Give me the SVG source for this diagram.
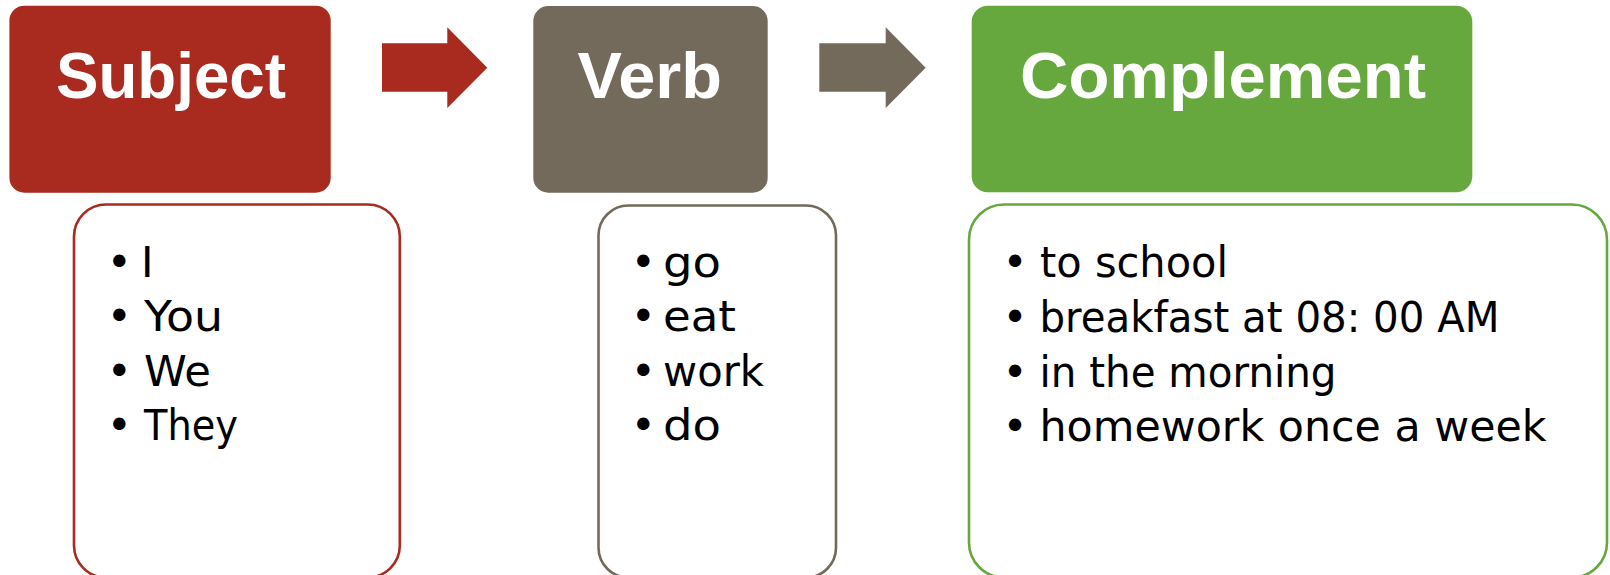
<svg xmlns="http://www.w3.org/2000/svg" width="1610" height="575" viewBox="0 0 1610 575">
<style>
  .hdr { font-family: "Liberation Sans", Arial, sans-serif; font-weight: bold; font-size: 65px; fill: #ffffff; }
  .item { font-family: "DejaVu Sans", sans-serif; font-size: 42.5px; fill: #000000; }
  .bul { font-family: "DejaVu Sans", sans-serif; font-size: 42.5px; fill: #000000; text-anchor: middle; }
  .list { fill: #ffffff; stroke-width: 2.6; }
  .red { fill: #A92A1E; }
  .gray { fill: #736A5B; }
  .green { fill: #66A83D; }
</style>
<rect width="1610" height="575" fill="#ffffff"/>
<g id="connectors">
  <polygon class="red" points="382,43.3 447.3,43.3 447.3,27.3 487.3,67.7 447.3,108 447.3,91.7 382,91.7"/>
  <polygon class="gray" points="819.3,43.3 885.7,43.3 885.7,27.3 925.7,67.7 885.7,108 885.7,91.7 819.3,91.7"/>
</g>
<g id="subject">
  <rect class="red" x="9.4" y="5.7" width="321.3" height="187" rx="15"/>
  <text class="hdr" x="56" y="98" textLength="230" lengthAdjust="spacingAndGlyphs">Subject</text>
</g>
<g id="verb">
  <rect class="gray" x="533.3" y="6" width="234.4" height="186.7" rx="15"/>
  <text class="hdr" x="577.5" y="98" textLength="144.5" lengthAdjust="spacingAndGlyphs">Verb</text>
</g>
<g id="complement">
  <rect class="green" x="971.7" y="5.7" width="500.6" height="186.6" rx="16"/>
  <text class="hdr" x="1020" y="98" textLength="406" lengthAdjust="spacingAndGlyphs">Complement</text>
</g>
<g id="subject-list">
  <rect class="list" x="74" y="204.5" width="325.8" height="373" rx="32" stroke="#A92A1E"/>
  <text class="bul" x="119.3" y="276.5">•</text>
  <text class="bul" x="119.3" y="331">•</text>
  <text class="bul" x="119.3" y="385.5">•</text>
  <text class="bul" x="119.3" y="439.5">•</text>
  <text class="item" x="141" y="276.5">I</text>
  <text class="item" x="144" y="331" textLength="79" lengthAdjust="spacingAndGlyphs">You</text>
  <text class="item" x="144" y="385.5" textLength="67" lengthAdjust="spacingAndGlyphs">We</text>
  <text class="item" x="144" y="439.5" textLength="94" lengthAdjust="spacingAndGlyphs">They</text>
</g>
<g id="verb-list">
  <rect class="list" x="598.5" y="205.5" width="237.5" height="372" rx="30" stroke="#736A5B"/>
  <text class="bul" x="643.3" y="276.5">•</text>
  <text class="bul" x="643.3" y="331">•</text>
  <text class="bul" x="643.3" y="385.5">•</text>
  <text class="bul" x="643.3" y="439.5">•</text>
  <text class="item" x="663" y="276.5" textLength="58" lengthAdjust="spacingAndGlyphs">go</text>
  <text class="item" x="663" y="331" textLength="73" lengthAdjust="spacingAndGlyphs">eat</text>
  <text class="item" x="663" y="385.5" textLength="101" lengthAdjust="spacingAndGlyphs">work</text>
  <text class="item" x="663" y="439.5" textLength="58" lengthAdjust="spacingAndGlyphs">do</text>
</g>
<g id="complement-list">
  <rect class="list" x="969" y="204.5" width="638" height="373" rx="35" stroke="#66A83D"/>
  <text class="bul" x="1015" y="277">•</text>
  <text class="bul" x="1015" y="331.7">•</text>
  <text class="bul" x="1015" y="386.5">•</text>
  <text class="bul" x="1015" y="441">•</text>
  <text class="item" x="1040" y="277" textLength="188" lengthAdjust="spacingAndGlyphs">to school</text>
  <text class="item" x="1039.5" y="331.7" textLength="460" lengthAdjust="spacingAndGlyphs">breakfast at 08: 00 AM</text>
  <text class="item" x="1039.5" y="386.5" textLength="297" lengthAdjust="spacingAndGlyphs">in the morning</text>
  <text class="item" x="1039.5" y="441" textLength="507" lengthAdjust="spacingAndGlyphs">homework once a week</text>
</g>
</svg>
